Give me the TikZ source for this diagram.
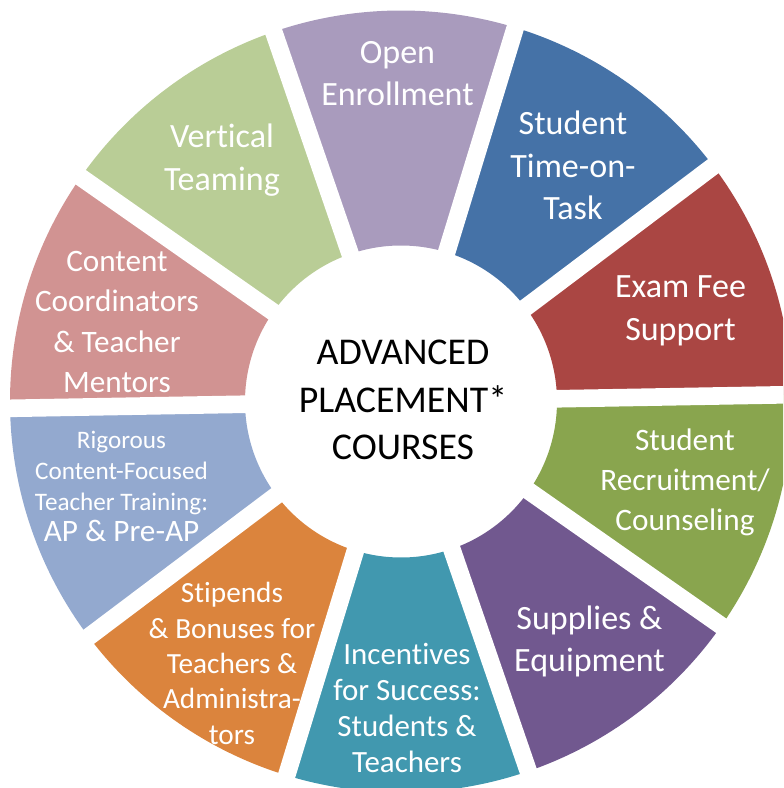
\documentclass[tikz,border=0pt]{standalone}
\usepackage{fontspec}
\setmainfont{Carlito}[Ligatures=NoCommon]
\definecolor{enroll}{HTML}{A99BBD}
\definecolor{timetask}{HTML}{4572A7}
\definecolor{examfee}{HTML}{AA4643}
\definecolor{recruit}{HTML}{89A54E}
\definecolor{supplies}{HTML}{71588F}
\definecolor{incent}{HTML}{4198AF}
\definecolor{stipend}{HTML}{DB843D}
\definecolor{training}{HTML}{93A9CF}
\definecolor{mentors}{HTML}{D19392}
\definecolor{teaming}{HTML}{B9CD96}
\tikzstyle{gap}=[draw=white, line width=0.44cm]
\tikzstyle{segtext}=[text=white, align=center, inner sep=0pt]
\tikzstyle{bigtext}=[segtext, font=\fontsize{24.2pt}{30.2pt}\selectfont]
\tikzstyle{midtext}=[segtext, font=\fontsize{22.2pt}{28.5pt}\selectfont]
\tikzstyle{hubtext}=[align=center, inner sep=0pt, font=\fontsize{26.9pt}{33.8pt}\selectfont]

\begin{document}
\begin{tikzpicture}[scale=0.025]
	\clip (-401,-386.5) rectangle (382,401.5);
	\coordinate (hub) at (0,0);

	% First we draw the ring, one slice of 36 degrees each
	\foreach \a/\col in {1/examfee, 37/timetask, 73/enroll, 109/teaming, 145/mentors,
		181/training, 217/stipend, 253/incent, 289/supplies, 325/recruit}
	\fill[\col] (\a:156) -- (\a:391) arc[start angle=\a, delta angle=36, radius=391]
		-- ({\a+36}:156) arc[start angle=\a+36, delta angle=-36, radius=156] -- cycle;

	% Cut the white gaps between the slices
	\foreach \a in {1,37,...,325}
	\draw[gap] (hub) -- (\a:430);

	% Texts of the slices
	\node[bigtext] (open) at (-3.5,328) {Open\\Enrollment};
	\node[bigtext] (time) at (172,236) {Student\\Time-on-\\Task};
	\node[bigtext] (exam) at (279.5,90.5) {Exam Fee\\Support};
	\node[midtext] (recr) at (284,-81) {Student\\Recruitment/\\Counseling};
	\node[bigtext] (supp) at (188.5,-240) {Supplies \&\\Equipment};
	\node[segtext, font=\fontsize{22pt}{25.6pt}\selectfont] (ince) at (6,-306.5)
		{Incentives\\for Success:\\Students \&\\Teachers};
	\node[segtext, font=\fontsize{20.8pt}{25.1pt}\selectfont] (stip) at (-169,-262)
		{Stipends\\\& Bonuses for\\Teachers \&\\Administra-\\tors};
	\node[segtext, font=\fontsize{17.9pt}{22pt}\selectfont] (rigo) at (-279.5,-85)
		{Rigorous\\Content-Focused\\Teacher Training:\\{\fontsize{22.2pt}{28.5pt}\selectfont AP \& Pre-AP}};
	\node[midtext] (cont) at (-284,79.5) {Content\\Coordinators\\\& Teacher\\Mentors};
	\node[bigtext] (vert) at (-179,241.5) {Vertical\\Teaming};

	% Text in the middle
	\node[hubtext] (core) at (2,1.5) {ADVANCED\\PLACEMENT*\\COURSES};
\end{tikzpicture}
\end{document}
